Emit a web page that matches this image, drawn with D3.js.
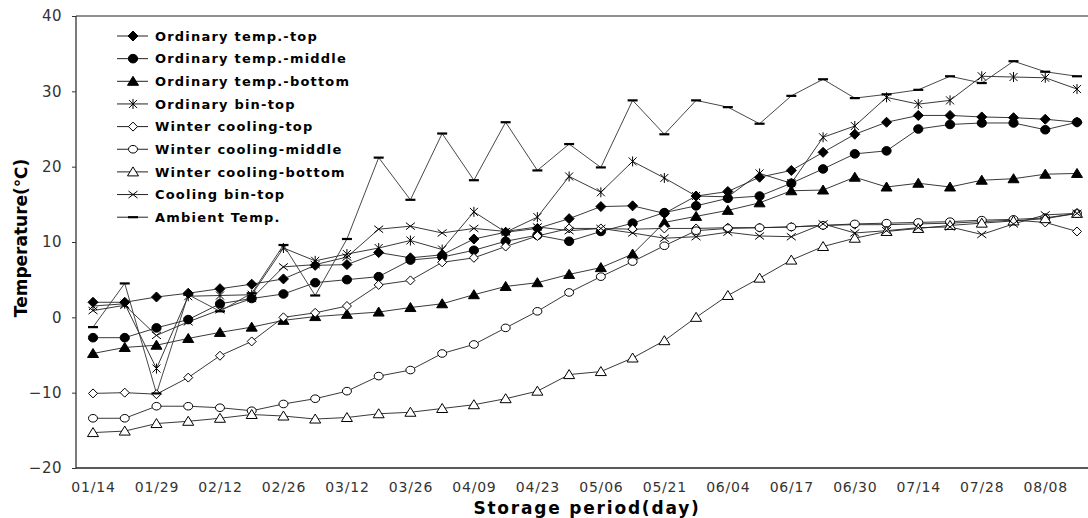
<!DOCTYPE html>
<html>
<head>
<meta charset="utf-8">
<script src="https://cdn.jsdelivr.net/npm/d3@7"></script>
<style>
  body { margin: 0; background: #fff; }
  svg { display: block; }
  text { font-family: 'DejaVu Sans', sans-serif; }
</style>
</head>
<body>
<script>
// tick labels, one per two measurements
const tickLabels = ['01/14', '01/29', '02/12', '02/26', '03/12', '03/26', '04/09', '04/23',
  '05/06', '05/21', '06/04', '06/17', '06/30', '07/14', '07/28', '08/08']

const seriesNames = ['Ordinary temp.-top', 'Ordinary temp.-middle', 'Ordinary temp.-bottom',
  'Ordinary bin-top', 'Winter cooling-top', 'Winter cooling-middle', 'Winter cooling-bottom',
  'Cooling bin-top', 'Ambient Temp.']

const ordTop = [2.0, 2.0, 2.7, 3.2, 3.8, 4.4, 5.1, 6.9, 7.0, 8.6, 7.9, 8.3, 10.4, 11.3, 11.8, 13.1,
  14.7, 14.8, 13.8, 16.1, 16.7, 18.6, 19.5, 21.9, 24.3, 25.9, 26.8, 26.8, 26.6, 26.5, 26.3, 25.9]
const ordMid = [-2.7, -2.7, -1.4, -0.3, 1.8, 2.5, 3.1, 4.6, 5.0, 5.4, 7.6, 8.0, 8.9, 10.1, 10.9, 10.1,
  11.4, 12.5, 13.9, 14.8, 15.8, 16.1, 17.8, 19.7, 21.7, 22.1, 25.0, 25.6, 25.8, 25.8, 24.9, 25.9]
const ordBot = [-4.8, -4.0, -3.7, -2.8, -2.0, -1.3, -0.4, 0.1, 0.4, 0.7, 1.3, 1.8, 3.0, 4.1, 4.6, 5.7,
  6.6, 8.4, 12.6, 13.4, 14.2, 15.2, 16.8, 16.9, 18.6, 17.3, 17.8, 17.3, 18.2, 18.4, 19.0, 19.1]
const ordBin = [1.5, 1.8, -6.8, 2.8, 2.9, 3.0, 9.2, 7.5, 8.4, 9.2, 10.2, 9.0, 14.0, 11.3, 13.3, 18.7,
  16.6, 20.7, 18.5, 16.1, 16.0, 19.1, 17.8, 23.9, 25.4, 29.2, 28.3, 28.8, 32.0, 31.9, 31.8, 30.3]
const winTop = [-10.1, -10.0, -10.2, -8.0, -5.1, -3.2, 0.0, 0.6, 1.5, 4.3, 4.9, 7.3, 7.9, 9.4, 10.8, 11.8,
  11.8, 11.7, 11.8, 11.8, 11.9, 11.9, 12.0, 12.2, 12.3, 12.3, 12.4, 12.5, 12.7, 12.9, 12.6, 11.4]
const winMid = [-13.4, -13.4, -11.8, -11.8, -12.0, -12.4, -11.5, -10.8, -9.8, -7.8, -7.0, -4.8, -3.6, -1.4, 0.8, 3.3,
  5.4, 7.4, 9.5, 11.5, 11.8, 11.9, 12.0, 12.2, 12.4, 12.5, 12.6, 12.7, 12.9, 13.0, 13.2, 13.8]
const winBot = [-15.3, -15.1, -14.1, -13.8, -13.4, -12.9, -13.1, -13.5, -13.3, -12.8, -12.6, -12.1, -11.6, -10.8, -9.8, -7.6,
  -7.2, -5.4, -3.1, 0.0, 2.9, 5.2, 7.6, 9.4, 10.5, 11.4, 11.8, 12.2, 12.5, 12.8, 13.1, 13.8]
const coolBin = [0.9, 1.6, -2.4, -0.6, 1.0, 2.5, 6.7, 7.0, 8.0, 11.7, 12.1, 11.2, 11.8, 11.4, 12.0, 11.5,
  11.8, 11.2, 10.5, 10.7, 11.3, 10.8, 10.7, 12.4, 11.2, 11.5, 11.9, 12.0, 11.0, 12.4, 13.6, 13.8]
const ambient = [-1.3, 4.5, -10.1, 3.0, 0.8, 3.2, 9.6, 2.9, 10.4, 21.2, 15.6, 24.4, 18.2, 25.9, 19.5, 23.0,
  19.9, 28.8, 24.3, 28.8, 27.9, 25.7, 29.4, 31.6, 29.1, 29.6, 30.2, 32.0, 31.1, 34.0, 32.6, 32.0]

const allValues = [ordTop, ordMid, ordBot, ordBin, winTop, winMid, winBot, coolBin, ambient]
const markerKinds = ['diamondF', 'circleF', 'triangleF', 'star', 'diamondO', 'circleO', 'triangleO', 'cross', 'dash']

const width = 1088
const height = 518
const plot = { left: 76, right: 1088, top: 16, bottom: 468 }

const svg = d3.select('body').append('svg')
  .attr('width', width)
  .attr('height', height)

const x = d3.scaleLinear().domain([0, ambient.length - 1]).range([93, 1077])
const y = d3.scaleLinear().domain([-20, 40]).range([plot.bottom, plot.top])

// marker shapes, centred on 0,0
const markerPath = {
  diamondF: 'M0,-5L5,0L0,5L-5,0Z',
  diamondO: 'M0,-4.5L4.5,0L0,4.5L-4.5,0Z',
  circleF: null,
  circleO: null,
  triangleF: 'M0,-5L5.5,4L-5.5,4Z',
  triangleO: 'M0,-5L5.5,4L-5.5,4Z',
  star: 'M0,-5V5M-4,-4L4,4M4,-4L-4,4',
  cross: 'M-4.5,-3.5L4.5,3.5M4.5,-3.5L-4.5,3.5',
  dash: 'M-5,0H5'
}

function drawMarker (sel, kind) {
  if (kind === 'circleF' || kind === 'circleO') {
    sel.append('ellipse')
      .attr('rx', kind === 'circleF' ? 4.6 : 4.5)
      .attr('ry', kind === 'circleF' ? 4.3 : 3.8)
      .attr('fill', kind === 'circleF' ? '#000' : '#fff')
      .attr('stroke', '#000')
      .attr('stroke-width', 1)
    return
  }
  const filled = kind.endsWith('F')
  const open = kind.endsWith('O')
  sel.append('path')
    .attr('d', markerPath[kind])
    .attr('fill', filled ? '#000' : (open ? '#fff' : 'none'))
    .attr('stroke', '#000')
    .attr('stroke-width', kind === 'dash' ? 2.2 : 1)
}

// frame
const frame = svg.append('g').attr('stroke', '#222').attr('fill', 'none')
frame.append('line').attr('x1', plot.left).attr('x2', plot.right).attr('y1', plot.top).attr('y2', plot.top).attr('stroke-width', 1)
frame.append('line').attr('x1', plot.left).attr('x2', plot.left).attr('y1', plot.top).attr('y2', plot.bottom).attr('stroke-width', 1.2)
frame.append('line').attr('x1', plot.left).attr('x2', plot.right).attr('y1', plot.bottom).attr('y2', plot.bottom).attr('stroke-width', 1.5)

// y axis
const yAxis = svg.append('g')
  .attr('transform', `translate(${plot.left},0)`)
  .call(d3.axisLeft(y).tickValues([-20, -10, 0, 10, 20, 30, 40]).tickSize(4).tickPadding(10))
yAxis.select('.domain').remove()
yAxis.selectAll('text').attr('font-size', 15).attr('fill', '#333').style('letter-spacing', '0.5px')
  .style('font-family', "'DejaVu Sans', sans-serif")
yAxis.selectAll('line').attr('stroke', '#333')

// x axis
const xAxis = svg.append('g')
  .attr('transform', `translate(0,${plot.bottom})`)
  .call(d3.axisBottom(x).tickValues(d3.range(0, ambient.length - 1, 2)).tickSize(0).tickPadding(14)
    .tickFormat((d, i) => tickLabels[i]))
xAxis.select('.domain').remove()
xAxis.selectAll('text').attr('font-size', 14).attr('fill', '#333').style('letter-spacing', '0.8px')
  .style('font-family', "'DejaVu Sans', sans-serif")

// titles
svg.append('text')
  .attr('x', 587).attr('y', 514)
  .attr('text-anchor', 'middle')
  .attr('font-size', 17).attr('font-weight', 'bold')
  .style('letter-spacing', '1.8px')
  .text('Storage period(day)')

svg.append('text')
  .attr('transform', 'translate(27,238) rotate(-90)')
  .attr('text-anchor', 'middle')
  .attr('font-size', 17).attr('font-weight', 'bold')
  .text('Temperature(℃)')

// lines then markers
const line = d3.line().x((d, i) => x(i)).y(d => y(d))
const linesG = svg.append('g')
allValues.forEach((vals, k) => {
  linesG.append('path')
    .datum(vals)
    .attr('d', line)
    .attr('fill', 'none')
    .attr('stroke', k === 8 ? '#333' : '#222')
    .attr('stroke-width', 0.9)
})

const marksG = svg.append('g')
allValues.forEach((vals, k) => {
  marksG.append('g').selectAll('g')
    .data(vals)
    .join('g')
    .attr('transform', (d, i) => `translate(${x(i)},${y(d)})`)
    .each(function () { drawMarker(d3.select(this), markerKinds[k]) })
})

// legend
const legend = svg.append('g').attr('transform', 'translate(117,36)')
seriesNames.forEach((name, k) => {
  const row = legend.append('g').attr('transform', `translate(0,${k * 22.65})`)
  row.append('line').attr('x1', 0).attr('x2', 31).attr('stroke', '#222').attr('stroke-width', 1)
  drawMarker(row.append('g').attr('transform', 'translate(16,0)'), markerKinds[k])
  row.append('text')
    .attr('x', 38).attr('y', 4.8)
    .attr('font-size', 13).attr('font-weight', 'bold')
    .style('letter-spacing', '1.2px')
    .text(name)
})
</script>
</body>
</html>
